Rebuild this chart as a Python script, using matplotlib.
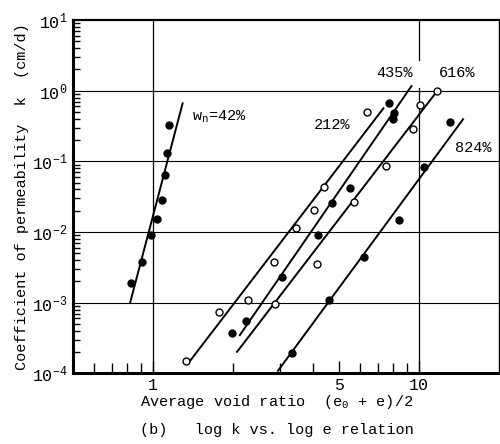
"""
Recreation of the log k vs. log e plot (coefficient of permeability
against average void ratio) for several natural water contents.
"""

import matplotlib
matplotlib.use('Agg')
import matplotlib.pyplot as plt
from matplotlib.ticker import FixedLocator, FixedFormatter, NullFormatter

plt.rcParams['font.family'] = ['Liberation Mono', 'DejaVu Sans Mono']
plt.rcParams['mathtext.fontset'] = 'custom'
plt.rcParams['mathtext.rm'] = 'Liberation Mono'

# w_n = 42 % (filled)
void_42 = [0.827, 0.909, 0.985, 1.038, 1.078, 1.106, 1.131, 1.151]
k_42 = [1.9e-3, 3.8e-3, 9.1e-3, 1.54e-2, 2.84e-2, 6.4e-2, 0.130, 0.327]
fit_42_e = [0.820, 1.292]
fit_42_k = [1.0e-3, 0.662]

# w_n = 212 % (open)
void_212 = [1.33, 1.77, 2.28, 2.84, 3.45, 4.02, 4.41, 6.35]
k_212 = [1.49e-4, 7.3e-4, 1.09e-3, 3.72e-3, 1.13e-2, 2.05e-2, 4.37e-2, 0.504]
fit_212_e = [1.356, 7.35]
fit_212_k = [1.39e-4, 0.563]

# w_n = 435 % (filled)
void_435 = [1.98, 2.23, 3.05, 4.16, 4.69, 5.50, 7.72, 8.06, 7.99]
k_435 = [3.68e-4, 5.55e-4, 2.33e-3, 8.97e-3, 2.6e-2, 4.15e-2, 0.676, 0.483,
         0.393]
fit_435_e = [2.12, 9.37]
fit_435_k = [3.48e-4, 1.16]

# w_n = 616 % (open)
void_616 = [2.88, 4.13, 5.71, 7.50, 9.52, 10.06, 11.71]
k_616 = [9.5e-4, 3.58e-3, 2.63e-2, 8.59e-2, 0.287, 0.626, 0.989]
fit_616_e = [2.07, 11.71]
fit_616_k = [2.02e-4, 0.989]

# w_n = 824 % (filled)
void_824 = [3.32, 4.58, 6.22, 8.42, 10.44, 13.06]
k_824 = [1.92e-4, 1.09e-3, 4.47e-3, 1.48e-2, 8.32e-2, 0.356]
fit_824_e = [2.95, 14.65]
fit_824_k = [1.09e-4, 0.394]

y_ticks = [1e-4, 1e-3, 1e-2, 1e-1, 1e0, 1e1]
y_tick_labels = [r'$\mathregular{10^{-4}}$', r'$\mathregular{10^{-3}}$',
                 r'$\mathregular{10^{-2}}$', r'$\mathregular{10^{-1}}$',
                 r'$\mathregular{10^{0}}$', r'$\mathregular{10^{1}}$']
x_ticks = [1, 5, 10]
x_tick_labels = ['1', '5', '10']
x_minor = [0.6, 0.7, 0.8, 0.9, 2, 3, 4, 6, 7, 8, 9]

# (label, x, y) for the curve labels
curve_labels = [
    (r'w$_\mathregular{n}$=42%', 1.40, 0.424),
    ('212%', 4.04, 0.327),
    ('435%', 6.90, 1.78),
    ('616%', 11.88, 1.78),
    ('824%', 13.64, 0.155),
]


def main():
    fig = plt.figure(figsize=(5.0, 4.44), dpi=100)
    ax = fig.add_axes([0.146, 0.159, 0.852, 0.796])
    ax.set_xscale('log')
    ax.set_yscale('log')
    ax.set_xlim(0.5, 20)
    ax.set_ylim(1e-4, 1e1)

    # grid: decades in k, e = 1 and 10
    for yv in [1e-3, 1e-2, 1e-1, 1e0]:
        ax.axhline(yv, color='black', lw=0.8, zorder=1)
    ax.axvline(1, color='black', lw=0.9, zorder=1)
    ax.axvline(10, ymin=0.0, ymax=0.8075, color='black', lw=0.9, zorder=1)
    ax.axvline(10, ymin=0.887, ymax=1.0, color='black', lw=0.9, zorder=1)

    filled = dict(marker='o', ls='none', ms=5, mfc='black', mec='black',
                  zorder=3)
    hollow = dict(marker='o', ls='none', ms=5, mfc='white', mec='black',
                  mew=1.0, zorder=3)

    series = [
        (void_42, k_42, fit_42_e, fit_42_k, filled),
        (void_212, k_212, fit_212_e, fit_212_k, hollow),
        (void_435, k_435, fit_435_e, fit_435_k, filled),
        (void_616, k_616, fit_616_e, fit_616_k, hollow),
        (void_824, k_824, fit_824_e, fit_824_k, filled),
    ]
    for e, k, fe, fk, style in series:
        ax.plot(fe, fk, color='black', lw=1.4, zorder=2)
        ax.plot(e, k, **style)

    for text, xv, yv in curve_labels:
        ax.text(xv, yv, text, ha='left', va='center', fontsize=11)

    ax.yaxis.set_major_locator(FixedLocator(y_ticks))
    ax.yaxis.set_major_formatter(FixedFormatter(y_tick_labels))
    ax.yaxis.set_minor_formatter(NullFormatter())
    ax.xaxis.set_major_locator(FixedLocator(x_ticks))
    ax.xaxis.set_major_formatter(FixedFormatter(x_tick_labels))
    ax.xaxis.set_minor_locator(FixedLocator(x_minor))
    ax.xaxis.set_minor_formatter(NullFormatter())

    ax.tick_params(axis='y', which='major', direction='in', length=0,
                   labelsize=12, pad=4)
    ax.tick_params(axis='y', which='minor', direction='in', length=5,
                   width=1.0)
    ax.tick_params(axis='x', which='major', direction='in', length=9,
                   width=1.0, labelsize=12, pad=3)
    ax.tick_params(axis='x', which='minor', direction='in', length=7,
                   width=1.0)

    ax.spines['left'].set_linewidth(2.2)
    ax.spines['bottom'].set_linewidth(2.2)
    ax.spines['top'].set_linewidth(1.6)
    ax.spines['right'].set_linewidth(1.0)

    ax.set_ylabel('Coefficient of permeability  k  (cm/d)', fontsize=11,
                  labelpad=2)
    fig.text(0.554, 0.095, r'Average void ratio  (e$_\mathregular{0}$ + e)/2',
             ha='center', va='center', fontsize=11)
    fig.text(0.553, 0.032, '(b)   log k vs. log e relation',
             ha='center', va='center', fontsize=11)

    fig.savefig('out.png', dpi=100)


if __name__ == '__main__':
    main()
